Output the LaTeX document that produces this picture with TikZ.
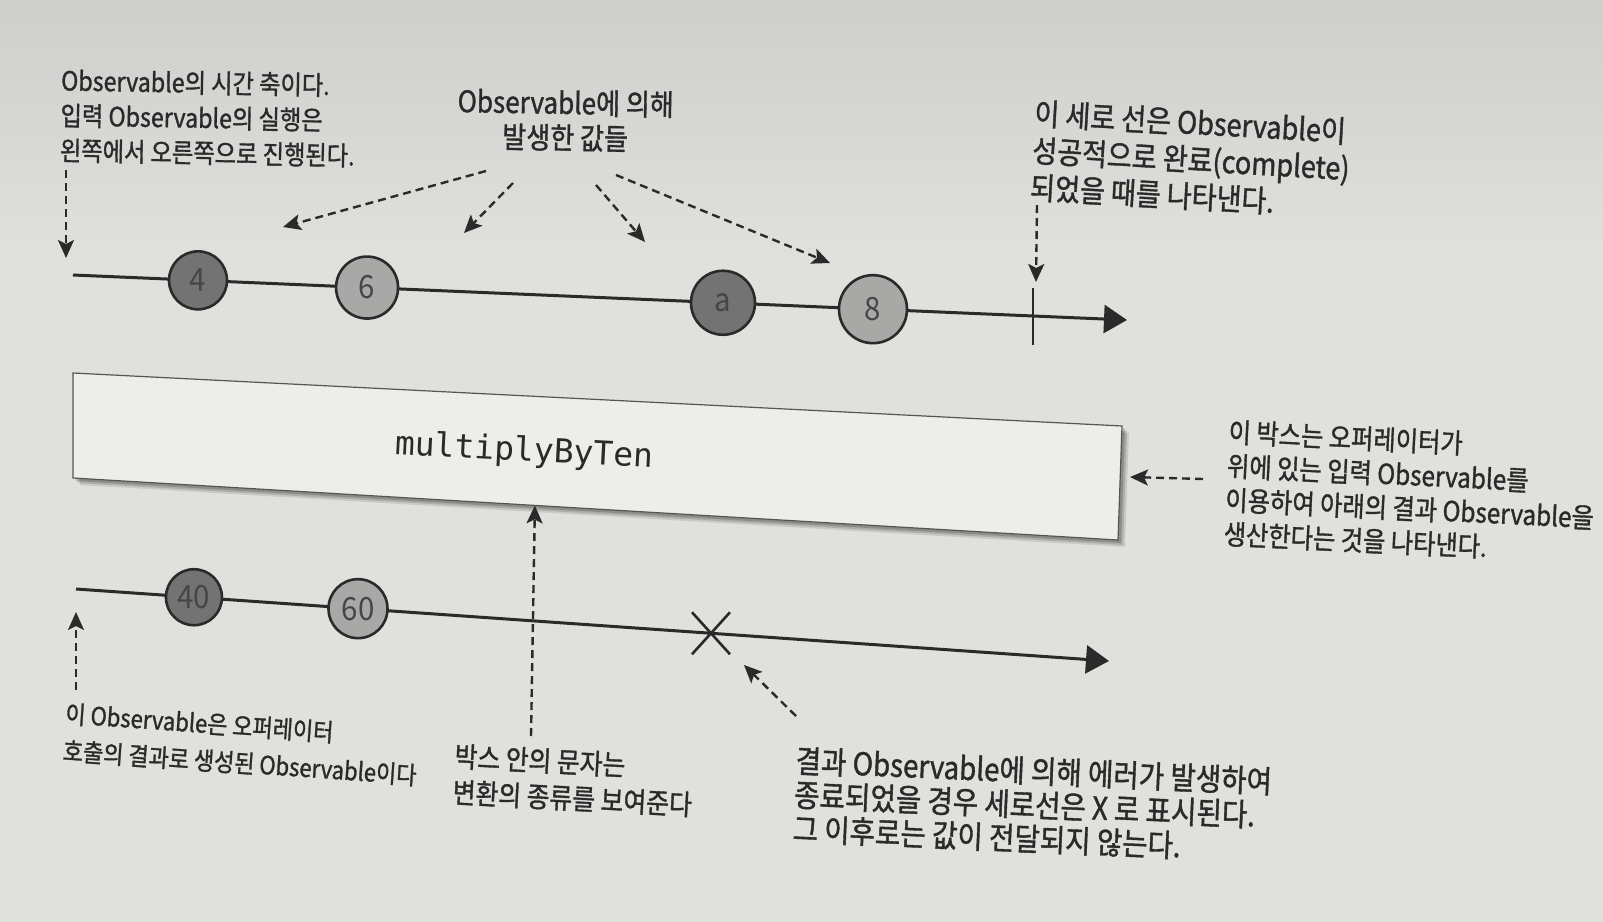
\documentclass[tikz,border=0pt]{standalone}
\usepackage{fontspec}
\newfontfamily\kr[FakeStretch=0.88,FakeBold=1.2]{Noto Sans CJK KR}
\newfontfamily\krnum[FakeStretch=0.92]{Noto Sans CJK KR}
\newfontfamily\monof{DejaVu Sans Mono}
\usetikzlibrary{arrows.meta,calc}
\definecolor{cPage}{RGB}{224,224,221}
\definecolor{cPageTop}{RGB}{206,206,204}
\definecolor{cBox}{RGB}{237,237,234}
\definecolor{cInk}{RGB}{42,42,42}
\definecolor{cDark}{RGB}{115,115,115}
\definecolor{cLight}{RGB}{168,168,166}
\definecolor{cBallText}{RGB}{70,70,70}
\tikzset{
  axis/.style={line width=1.5pt, draw=cInk},
  axishead/.style={-{Triangle[length=11.5pt,width=14pt]}},
  ball/.style={circle, draw=cInk, line width=1.3pt, inner sep=0pt,
    font=\krnum\fontsize{16}{16}\selectfont, text=cBallText},
  darkb/.style={ball, fill=cDark},
  lightb/.style={ball, fill=cLight},
  note/.style={inner sep=0pt, text=cInk, align=left},
  pointer/.style={line width=1.2pt, draw=cInk, dash pattern=on 4pt off 2.5pt,
    -{Stealth[length=9pt,width=8pt,inset=2pt]}},
  stopmark/.style={line width=1.3pt, draw=cInk}
}
\begin{document}
\begin{tikzpicture}[x=0.5pt,y=-0.5pt]
\useasboundingbox (0,0) rectangle (1603,922);
% page background
\fill[cPage] (0,0) rectangle (1603,922);
\shade[top color=cPageTop, bottom color=cPage] (0,0) rectangle (1603,260);

% ---------- top (input) timeline ----------
\coordinate (T0) at (73,275);
\coordinate (T1) at (1127,320);
\draw[axis,axishead] (T0) -- (T1);
\path (T0) -- (T1)
  node[darkb, minimum size=29pt, pos=0.1186] (c4) {4}
  node[lightb, minimum size=31pt, pos=0.279] (c6) {6}
  node[darkb, minimum size=32pt, pos=0.6167] (ca) {a}
  node[lightb, minimum size=34pt, pos=0.759] (c8) {8}
  coordinate[pos=0.9108] (tick);
\draw[stopmark] ($(tick)+(0,-28)$) coordinate (tickA) -- ($(tick)+(0,29)$) coordinate (tickB);

% ---------- operator box ----------
\coordinate (BTL) at (73,373);
\coordinate (BTR) at (1122,426);
\coordinate (BBR) at (1118,540);
\coordinate (BBL) at (73,478);
\foreach \s/\o in {7/0.10,5/0.14,3/0.18}{
  \fill[black,opacity=\o] ($(BTL)+(\s,\s)$) -- ($(BTR)+(\s,\s)$) -- ($(BBR)+(\s,\s)$) -- ($(BBL)+(\s,\s)$) -- cycle;
}
\filldraw[fill=cBox, draw=cInk!80, line width=0.6pt] (BTL) -- (BTR) -- (BBR) -- (BBL) -- cycle;
\node[inner sep=0pt, text=cInk, rotate=-2.9, font=\monof\fontsize{16.5}{16.5}\selectfont] (oplabel) at (524,452) {multiplyByTen};
\coordinate (boxbottom) at ($(BBL)!0.442!(BBR)$);
\coordinate (boxright) at (1130,477);

% ---------- bottom (output) timeline ----------
\coordinate (B0) at (76,589);
\coordinate (B1) at (1109,661);
\draw[axis,axishead] (B0) -- (B1);
\path (B0) -- (B1)
  node[darkb, minimum size=28pt, pos=0.1142] (c40) {40}
  node[lightb, minimum size=29.5pt, pos=0.273] (c60) {60}
  coordinate[pos=0.6147] (err);
\draw[stopmark] ($(err)+(-19,-21)$) coordinate (errA) -- ($(err)+(19,21)$) coordinate (errB);
\draw[stopmark] ($(err)+(19,-21)$) coordinate (errC) -- ($(err)+(-19,21)$) coordinate (errD);

% ---------- annotations ----------
\node[note, anchor=north west, rotate=-1, font=\kr\fontsize{13.2}{17.5}\selectfont] (ntl) at (61,68)
  {Observable의 시간 축이다.\\입력 Observable의 실행은\\왼쪽에서 오른쪽으로 진행된다.};
\node[note, align=center, anchor=north, rotate=-1, font=\kr\fontsize{14.8}{17.5}\selectfont] (ntc) at (566,89)
  {Observable에 의해\\발생한 값들};
\node[note, anchor=north west, rotate=-3.3, font=\kr\fontsize{15.4}{18.5}\selectfont] (ntr) at (1035,99)
  {이 세로 선은 Observable이\\성공적으로 완료(complete)\\되었을 때를 나타낸다.};
\node[note, anchor=north west, rotate=-2.8, font=\kr\fontsize{13.8}{17}\selectfont] (nrm) at (1229,419)
  {이 박스는 오퍼레이터가\\위에 있는 입력 Observable를\\이용하여 아래의 결과 Observable을\\생산한다는 것을 나타낸다.};
\node[note, anchor=north west, rotate=-4, font=\kr\fontsize{12.5}{18.5}\selectfont] (nbl) at (66,702)
  {이 Observable은 오퍼레이터\\호출의 결과로 생성된 Observable이다};
\node[note, anchor=north west, rotate=-3, font=\kr\fontsize{14.1}{18}\selectfont] (nbm) at (455,743)
  {박스 안의 문자는\\변환의 종류를 보여준다};
\node[note, anchor=north west, rotate=-2.5, font=\kr\fontsize{15.7}{17}\selectfont] (nbr) at (796,746)
  {결과 Observable에 의해 에러가 발생하여\\종료되었을 경우 세로선은 X 로 표시된다.\\그 이후로는 값이 전달되지 않는다.};

% ---------- pointers ----------
\coordinate (p1s) at (66,170);   \coordinate (p1e) at (66,258);
\coordinate (p2s) at (486,171);  \coordinate (p2e) at (283,227);
\coordinate (p3s) at (513,183);  \coordinate (p3e) at (464,233);
\coordinate (p4s) at (596,185);  \coordinate (p4e) at (645,242);
\coordinate (p5s) at (616,175);  \coordinate (p5e) at (830,263);
\coordinate (p6s) at (1037,205); \coordinate (p6e) at (1036,282);
\coordinate (p7s) at (1203,479);
\coordinate (p8s) at (531,736);
\coordinate (p9s) at (76,690);   \coordinate (p9e) at (76,612);
\coordinate (p10s) at (796,716); \coordinate (p10e) at (744,665);
\draw[pointer] (p1s) -- (p1e);
\draw[pointer] (p2s) -- (p2e);
\draw[pointer] (p3s) -- (p3e);
\draw[pointer] (p4s) -- (p4e);
\draw[pointer] (p5s) -- (p5e);
\draw[pointer] (p6s) -- (p6e);
\draw[pointer] (p7s) -- (boxright);
\draw[pointer] (p8s) -- (boxbottom);
\draw[pointer] (p9s) -- (p9e);
\draw[pointer] (p10s) -- (p10e);
\end{tikzpicture}
\end{document}
